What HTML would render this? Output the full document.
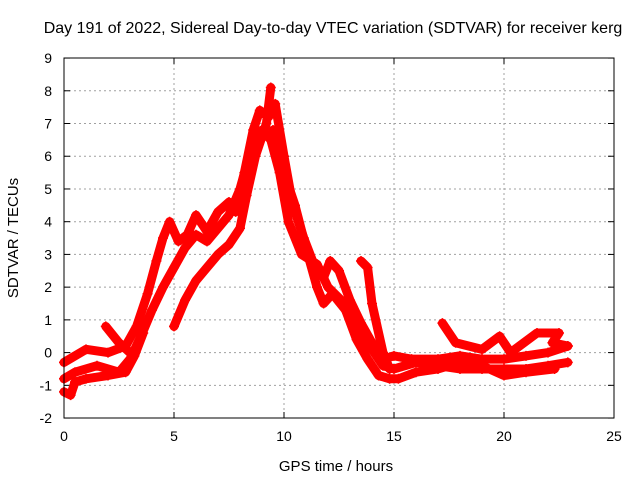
<!DOCTYPE html>
<html><head><meta charset="utf-8"><style>
body{margin:0;background:#fff}
svg{display:block;font-family:"Liberation Sans",sans-serif}
</style></head><body>
<svg id="chart" width="640" height="480">
<text x="333" y="33" text-anchor="middle" font-size="16">Day 191 of 2022, Sidereal Day-to-day VTEC variation (SDTVAR) for receiver kerg</text>
<text x="336" y="471" text-anchor="middle" font-size="15">GPS time / hours</text>
<text transform="translate(18,238) rotate(-90)" text-anchor="middle" font-size="15">SDTVAR / TECUs</text>
<g id="grid"></g><g id="ticks"></g><g id="marks"></g>
<rect x="64" y="58" width="550" height="360" fill="none" stroke="#000" stroke-width="1"/>
</svg>
<script>
const xTicks=[0,5,10,15,20,25];
const yTicks=[-2,-1,0,1,2,3,4,5,6,7,8,9];
const trackA_t=[0,1,2,2.8,3.3,3.8,4.2,4.5,4.8,5.2,5.6,6,6.5,7,7.5,7.8,8.2,8.6,8.9,9.3,9.6,10,10.4,10.9,11.3,11.8,12.1,12.5,13,13.5,14,14.5,15,15.8,17,18,19,20,21,22,22.9];
const trackA_v=[-0.3,0.1,0,0.2,0.8,1.8,2.8,3.5,4,3.4,3.6,4.2,3.7,4.3,4.6,4.3,5.5,6.8,7.4,7.2,7.6,6,4.5,3.5,2.8,2.3,2.8,2.5,1.6,0.9,0.3,-0.2,-0.1,-0.2,-0.2,-0.1,-0.2,-0.2,-0.1,0,0.2];
const trackB_t=[0,0.5,1.5,2.5,3,3.5,4,4.5,5,5.5,6,6.5,7,7.5,8,8.5,9,9.4,9.8,10.2,10.8,11.5,12,12.6,13,13.5,14,14.5,15,16,17,18,19,20,21,22,22.9];
const trackB_v=[-0.8,-0.6,-0.4,-0.6,-0.2,0.5,1.3,2,2.6,3.2,3.6,3.4,3.8,4.2,5,6.2,6.8,6.5,5.5,4,3,2.7,2,1.6,1,0.6,0.1,-0.4,-0.5,-0.3,-0.4,-0.5,-0.5,-0.5,-0.5,-0.4,-0.3];
const trackC_t=[5,5.5,6,6.5,7,7.5,8,8.3,8.7,9.2,9.4];
const trackC_v=[0.8,1.6,2.2,2.6,3,3.3,3.8,4.8,6,7,8.1];
const trackD_t=[0,0.3,0.5,1,2,2.8,3.2,3.6];
const trackD_v=[-1.2,-1.3,-0.9,-0.8,-0.7,-0.6,-0.1,0.6];
const trackE_t=[1.9,2.5,3];
const trackE_v=[0.8,0.3,0];
const trackF_t=[17.2,17.8,19,19.8,20.3,21.5,22.5,22.2,22.9];
const trackF_v=[0.9,0.3,0.1,0.5,0,0.6,0.6,0.3,0.2];
const trackG_t=[9.5,10,10.5,11,11.5,11.8,12.2,12.8,13.3,13.8,14.3,14.8,15.2,16,17,17.5,18,19,20,21,22.3];
const trackG_v=[6.8,5.5,4.5,3.2,2,1.5,1.8,1.3,0.4,-0.2,-0.7,-0.8,-0.8,-0.6,-0.5,-0.4,-0.3,-0.4,-0.7,-0.6,-0.5];
const trackH_t=[13.5,13.8,14,14.5,14.8];
const trackH_v=[2.8,2.6,1.5,0,-0.5];
const tracks=[[trackA_t,trackA_v],[trackB_t,trackB_v],[trackC_t,trackC_v],[trackD_t,trackD_v],[trackE_t,trackE_v],[trackF_t,trackF_v],[trackG_t,trackG_v],[trackH_t,trackH_v]];
const X=h=>64+h*22, Y=v=>352.6-v*32.727;
const NS="http://www.w3.org/2000/svg";
function mk(tag,attrs,parent){const e=document.createElementNS(NS,tag);for(const k in attrs)e.setAttribute(k,attrs[k]);parent.appendChild(e);return e;}
const grid=document.getElementById('grid'),ticks=document.getElementById('ticks'),marks=document.getElementById('marks');
xTicks.forEach(t=>{
  if(t>0&&t<25){const g=mk('line',{x1:X(t),x2:X(t),y1:58,y2:418,stroke:'#a0a0a0','stroke-dasharray':'2,3'},grid);
  
  }
  mk('line',{x1:X(t),x2:X(t),y1:418,y2:412,stroke:'#000'},ticks);
  mk('line',{x1:X(t),x2:X(t),y1:58,y2:64,stroke:'#000'},ticks);
  const l=mk('text',{x:X(t),y:441,'text-anchor':'middle','font-size':14},ticks);l.textContent=t;
  
  
});
yTicks.forEach(t=>{
  if(t>-2&&t<9){const g=mk('line',{x1:64,x2:614,y1:Y(t),y2:Y(t),stroke:'#a0a0a0','stroke-dasharray':'2,3'},grid);
  
  }
  mk('line',{x1:64,x2:70,y1:Y(t),y2:Y(t),stroke:'#000'},ticks);
  mk('line',{x1:608,x2:614,y1:Y(t),y2:Y(t),stroke:'#000'},ticks);
  const l=mk('text',{x:52,y:Y(t)+5,'text-anchor':'end','font-size':14},ticks);l.textContent=t;
  
  
});
tracks.forEach(([ts,vs])=>{
  const pts=ts.map((t,i)=>X(t)+','+Y(vs[i])).join(' ');
  const p=mk('polyline',{points:pts,fill:'none',stroke:'#f00','stroke-width':9,'stroke-linejoin':'round','stroke-linecap':'round'},marks);
  
  
  ts.forEach((t,i)=>{
    const x=X(t),y=Y(vs[i]);
    const m=mk('path',{d:`M${x-5},${y}H${x+5}M${x},${y-5}V${y+5}`,stroke:'#f00','stroke-width':1.5},marks);
    
    
  });
});
</script>
</body></html>
